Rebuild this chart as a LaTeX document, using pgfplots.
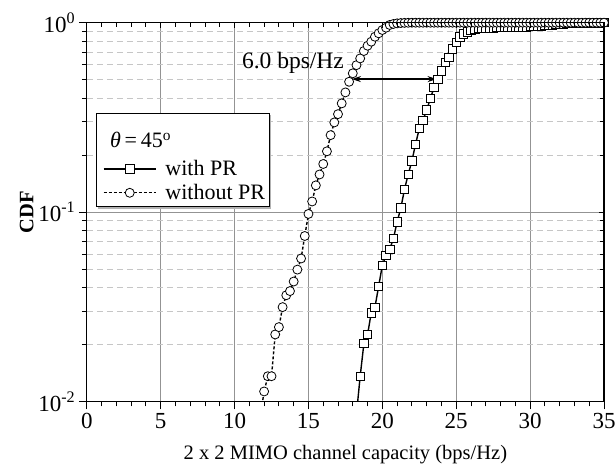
\documentclass[border=0pt]{standalone}
\usepackage{fontspec}
\setmainfont{Liberation Serif}
\usepackage{pgfplots}
\pgfplotsset{compat=1.18}
\usetikzlibrary{arrows.meta}

\newcommand{\tickf}{\fontsize{23}{27}\selectfont}
\newcommand{\labf}{\fontsize{20.5}{24}\selectfont}
\newcommand{\legf}{\fontsize{22}{26}\selectfont}
\newcommand{\annf}{\fontsize{23.5}{28}\selectfont}

\pgfplotstableread{
x y
11.75 0.0085
12.0 0.0113
12.25 0.0136
12.5 0.0136
12.75 0.0226
13.0 0.0247
13.25 0.0315
13.5 0.0364
13.75 0.0383
14.0 0.0430
14.25 0.0497
14.5 0.0569
14.75 0.0748
15.0 0.0978
15.25 0.1138
15.5 0.1384
15.75 0.158
16.0 0.1795
16.25 0.2094
16.5 0.2549
16.75 0.2975
17.0 0.329
17.25 0.375
17.5 0.4285
17.75 0.4877
18.0 0.5405
18.25 0.597
18.5 0.648
18.75 0.709
19.0 0.756
19.25 0.794
19.5 0.843
19.75 0.879
20.0 0.915
20.25 0.941
20.5 0.973
20.75 0.985
21.0 0.992
21.25 0.996
21.5 0.998
21.75 0.999
22.0 1
22.25 1
22.5 1
22.75 1
23.0 1
23.25 1
23.5 1
23.75 1
24.0 1
24.25 1
24.5 1
24.75 1
25.0 1
25.25 1
25.5 1
25.75 1
26.0 1
26.25 1
26.5 1
26.75 1
27.0 1
27.25 1
27.5 1
27.75 1
28.0 1
28.25 1
28.5 1
28.75 1
29.0 1
29.25 1
29.5 1
29.75 1
30.0 1
30.25 1
30.5 1
30.75 1
31.0 1
31.25 1
31.5 1
31.75 1
32.0 1
32.25 1
32.5 1
32.75 1
33.0 1
33.25 1
33.5 1
33.75 1
34.0 1
34.25 1
34.5 1
34.75 1
35.0 1
}\withoutpr

\pgfplotstableread{
x y
18.25 0.0086
18.5 0.0136
18.75 0.0202
19.0 0.0226
19.25 0.0294
19.5 0.0315
19.75 0.0406
20.0 0.0524
20.25 0.0592
20.5 0.0637
20.75 0.0725
21.0 0.0888
21.25 0.105
21.5 0.132
21.75 0.158
22.0 0.1865
22.25 0.2285
22.5 0.2766
22.75 0.306
23.0 0.346
23.25 0.398
23.5 0.456
23.75 0.502
24.0 0.556
24.25 0.615
24.5 0.655
24.75 0.727
25.0 0.789
25.25 0.840
25.5 0.872
25.75 0.896
26.0 0.915
26.25 0.925
26.5 0.930
26.75 0.934
27.0 0.937
27.25 0.939
27.5 0.941
27.75 0.943
28.0 0.944
28.25 0.945
28.5 0.946
28.75 0.947
29.0 0.948
29.25 0.949
29.5 0.950
29.75 0.952
30.0 0.953
30.25 0.955
30.5 0.958
30.75 0.961
31.0 0.965
31.25 0.969
31.5 0.973
31.75 0.977
32.0 0.980
32.25 0.984
32.5 0.988
32.75 0.990
33.0 0.992
33.25 0.993
33.5 0.994
33.75 0.995
34.0 0.996
34.25 0.997
34.5 0.998
34.75 0.999
35.0 1
}\withpr

\begin{document}
\begin{tikzpicture}
\useasboundingbox (-86.8pt,-72.5pt) rectangle (528.2pt,401.5pt);
\begin{axis}[
  scale only axis,
  width=517.2pt, height=378.8pt,
  xmin=0, xmax=35,
  ymode=log, ymin=0.01, ymax=1,
  xtick={0,5,...,35}, minor x tick num=4,
  ytick={0.01,0.1,1},
  yticklabels={10\textsuperscript{-2},10\textsuperscript{-1},10\textsuperscript{0}},
  xtick pos=bottom, ytick pos=left, tick align=outside,
  major tick length=8pt, minor tick length=5pt,
  tick style={black, line width=1pt},
  axis line style={line width=1.3pt},
  xmajorgrids, ymajorgrids, yminorgrids,
  major grid style={gray!85, line width=0.7pt},
  minor grid style={gray!45, line width=0.7pt, dash pattern=on 6pt off 4pt},
  ticklabel style={font=\tickf},
  /pgf/number format/assume math mode=true,
  xlabel={2 x 2 MIMO channel capacity (bps/Hz)},
  ylabel={\bfseries CDF},
  label style={font=\labf},
  xlabel style={at={(axis description cs:0.5,0)}, yshift=-53.5pt, anchor=center},
  ylabel style={at={(axis description cs:0,0.5)}, yshift=60pt, anchor=center},
  legend style={at={(axis description cs:0.031,0.639)}, anchor=north west, font=\legf,
    draw=none, fill=none, inner sep=0pt, row sep=5pt,
    nodes={inner sep=1pt},
    /tikz/every odd column/.style={column sep=8pt}},
  legend cell align=left,
  legend image code/.code={
    \draw[mark repeat=2,mark phase=2,#1] plot coordinates {(0pt,0pt) (26pt,0pt) (52pt,0pt)};
  },
]
% curves (lines), then markers for the points inside the axis
\addplot[black, line width=1.4pt, forget plot] table[x=x,y=y] {\withpr};
\addplot[black, line width=1.4pt, densely dashed, forget plot] table[x=x,y=y] {\withoutpr};
\addplot[only marks, mark=square*, mark size=4.2pt, mark options={fill=white, line width=0.8pt},
  black, forget plot, skip coords between index={0}{1}] table[x=x,y=y] {\withpr};
\addplot[only marks, mark=*, mark size=4.5pt, mark options={fill=white, line width=0.8pt},
  black, forget plot, skip coords between index={0}{1}] table[x=x,y=y] {\withoutpr};
% legend frame and title
\fill[gray!60] ([xshift=2pt,yshift=-2pt]axis description cs:0.0178,0.5135)
  rectangle ([xshift=2pt,yshift=-2pt]axis description cs:0.3523,0.7616);
\draw[fill=white, line width=1pt] (axis description cs:0.0178,0.5135)
  rectangle (axis description cs:0.3523,0.7616);
\node[anchor=west, font=\legf, inner sep=0pt] at (axis description cs:0.0449,0.6903)
  {\textit{θ}\,=\,45\textsuperscript{o}};
\addlegendimage{black, line width=1.4pt, mark=square*, mark size=4.2pt,
  mark options={solid, fill=white, line width=0.8pt}}
\addlegendentry{with PR}
\addlegendimage{black, line width=1.4pt, densely dashed, mark=*, mark size=4.5pt,
  mark options={solid, fill=white, line width=0.8pt}}
\addlegendentry{without PR}
\draw[{Stealth[length=9pt,width=6pt]}-{Stealth[length=9pt,width=6pt]}, line width=1.2pt]
  (axis cs:17.94,0.504) -- (axis cs:23.67,0.504);
\node[font=\annf] at (axis cs:13.95,0.612) {6.0 bps/Hz};
\end{axis}
\begin{axis}[
  scale only axis,
  width=517.2pt, height=378.8pt,
  xmin=0, xmax=35,
  ymode=log, ymin=0.01, ymax=1,
  xtick={0,5,...,35}, minor x tick num=4,
  ytick={0.01,0.1,1},
  xtick pos=top, ytick pos=right, tick align=inside,
  major tick length=5pt, minor tick length=4pt,
  tick style={black, line width=1pt},
  axis line style={line width=1.3pt},
  xticklabels={}, yticklabels={},
]
\end{axis}
\end{tikzpicture}
\end{document}
